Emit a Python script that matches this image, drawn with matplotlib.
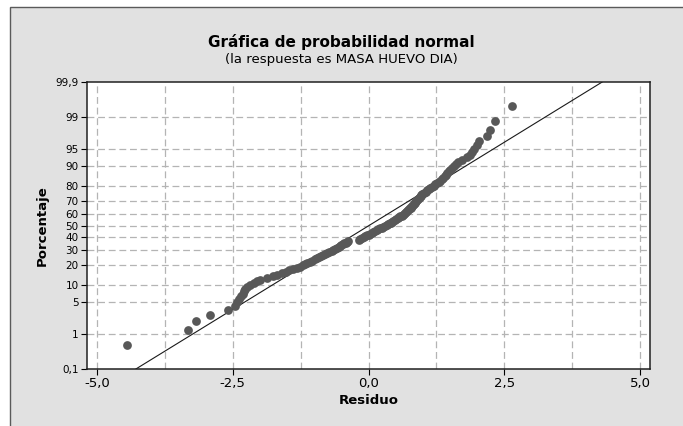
import numpy as np
import matplotlib
matplotlib.use("Agg")
import matplotlib.pyplot as plt
from matplotlib.patches import Rectangle
from statistics import NormalDist

# residuos (ordenados)
residuos = [
    -4.45, -3.32, -3.18, -2.92, -2.58, -2.45, -2.42, -2.39, -2.35, -2.32,
    -2.30, -2.27, -2.24, -2.18, -2.11, -2.06, -1.99, -1.86, -1.76, -1.68,
    -1.60, -1.52, -1.46, -1.39, -1.32, -1.26, -1.21, -1.17, -1.13, -1.08,
    -1.04, -0.99, -0.955, -0.91, -0.87, -0.84, -0.80, -0.76, -0.72, -0.68,
    -0.65, -0.61, -0.58, -0.55, -0.52, -0.50, -0.47, -0.45, -0.42, -0.40,
    -0.38, -0.18, -0.15, -0.12, -0.09, -0.06, -0.03, 0.00, 0.03, 0.06,
    0.09, 0.12, 0.15, 0.18, 0.21, 0.24, 0.27, 0.30, 0.335, 0.36,
    0.39, 0.41, 0.44, 0.46, 0.49, 0.51, 0.54, 0.56, 0.585, 0.61,
    0.63, 0.65, 0.67, 0.69, 0.71, 0.72, 0.74, 0.76, 0.775, 0.79,
    0.805, 0.82, 0.835, 0.85, 0.865, 0.88, 0.895, 0.91, 0.93, 0.945,
    0.96, 0.975, 0.99, 1.02, 1.05, 1.08, 1.11, 1.14, 1.17, 1.20,
    1.23, 1.26, 1.29, 1.32, 1.35, 1.37, 1.40, 1.43, 1.45, 1.48,
    1.50, 1.54, 1.58, 1.62, 1.65, 1.72, 1.82, 1.86, 1.90, 1.95,
    1.99, 2.04, 2.18, 2.24, 2.33, 2.65,
]

pct_ticks = [0.1, 1, 5, 10, 20, 30, 40, 50, 60, 70, 80, 90, 95, 99, 99.9]
pct_labels = ["0,1", "1", "5", "10", "20", "30", "40", "50", "60", "70",
              "80", "90", "95", "99", "99,9"]
x_ticks = [-5.0, -2.5, 0.0, 2.5, 5.0]
x_labels = ["-5,0", "-2,5", "0,0", "2,5", "5,0"]
x_grid = [-5.0, -3.75, -2.5, -1.25, 0.0, 1.25, 2.5, 3.75, 5.0]

plt.rcParams['font.family'] = ['DejaVu Sans']

nd = NormalDist()
res = np.sort(np.array(residuos))
n = len(res)
rango = np.arange(1, n + 1)
prob = (rango - 0.3) / (n + 0.4)          # rangos medianos (Minitab)
zpos = np.array([nd.inv_cdf(p) for p in prob])
mu = res.mean()
sd = res.std(ddof=1)
zmax = nd.inv_cdf(0.999)

fig = plt.figure(figsize=(6.83, 4.26), dpi=100, facecolor='white')
fondo = Rectangle((10 / 683, -0.2), 1.2, 1.2 - 7 / 426, transform=fig.transFigure,
                  facecolor='#e1e1e1', edgecolor='#5a5a5a', linewidth=1.0, zorder=-5)
fig.patches.append(fondo)

ax = fig.add_axes([87 / 683, 1 - 369 / 426, (650 - 87) / 683, (369 - 82) / 426])
ax.set_zorder(2)
ax.set_facecolor('white')

gris = '#b4b4b4'
for xg in x_grid:
    ax.axvline(xg, color=gris, linestyle=(0, (5.5, 3)), linewidth=0.9, zorder=1)
for p in pct_ticks[1:-1]:
    ax.axhline(nd.inv_cdf(p / 100), color=gris, linestyle=(0, (5.5, 3)), linewidth=0.9, zorder=1)

zl = np.array([-zmax, zmax])
ax.plot(mu + sd * zl, zl, color='#1a1a1a', linewidth=0.8, zorder=2)
ax.plot(res, zpos, 'o', color='#585858', markersize=6.3, markeredgewidth=0, zorder=3)

ax.set_xlim(-5.184, 5.184)
ax.set_ylim(-zmax, zmax)
ax.set_xticks(x_ticks)
ax.set_xticklabels(x_labels, fontsize=9.5)
ax.set_yticks([nd.inv_cdf(p / 100) for p in pct_ticks])
ax.set_yticklabels(pct_labels, fontsize=7.5)
ax.tick_params(direction='out', length=4, width=0.8, pad=2)
for s in ax.spines.values():
    s.set_linewidth(1.1)
    s.set_color('#202020')

ax.set_xlabel("Residuo", fontsize=9.5, fontweight='bold', labelpad=3)
ax.set_ylabel("Porcentaje", fontsize=9.5, fontweight='bold', labelpad=5)

fig.text(0.5, 1 - 42 / 426, "Gráfica de probabilidad normal", ha='center', va='center',
         fontsize=11, fontweight='bold')
fig.text(0.5, 1 - 60 / 426, "(la respuesta es MASA HUEVO DIA)", ha='center', va='center',
         fontsize=9.5)

fig.savefig("out.png", dpi=100, facecolor=fig.get_facecolor())
